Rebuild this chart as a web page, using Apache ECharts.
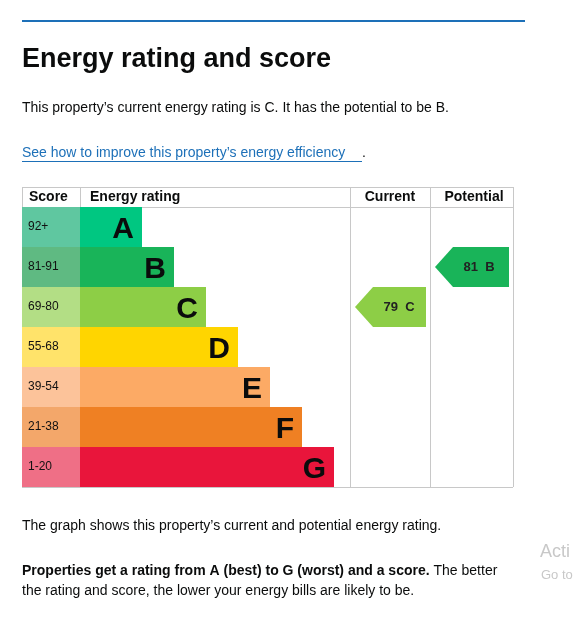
<!DOCTYPE html>
<html>
<head>
<meta charset="utf-8">
<script src="https://cdn.jsdelivr.net/npm/echarts@6/dist/echarts.min.js"></script>
<style>html,body{margin:0;padding:0;background:#fff}#chart{width:576px;height:617px}</style>
</head>
<body>
<div id="chart"></div>
<script>
// energy rating bands, top to bottom
var ratings = ['A', 'B', 'C', 'D', 'E', 'F', 'G'];
var scoreBands = ['92+', '81-91', '69-80', '55-68', '39-54', '21-38', '1-20'];
var barLengths = [62, 94, 126, 158, 190, 222, 254];
var bandColors = ['#00c781', '#19b459', '#8dce46', '#ffd500', '#fcaa65', '#ef8023', '#e9153b'];
var scoreColors = ['#5fc7a0', '#5fba82', '#b3de85', '#ffe36a', '#fcc39a', '#f3a76a', '#ef6f86'];
var currentScore = 79, currentRating = 'C';
var potentialScore = 81, potentialRating = 'B';

var font = 'Liberation Sans, Arial, sans-serif';
var chart = echarts.init(document.getElementById('chart'));
var top0 = 207, h = 280;

function catAxis(i) {
  return { gridIndex: i, type: 'category', data: ratings, inverse: true, show: false };
}
function valAxis(i, max) {
  return { gridIndex: i, type: 'value', min: 0, max: max, show: false };
}

function arrow(score, rating, color) {
  return function (params, api) {
    var idx = ratings.indexOf(rating);
    var c = api.coord([0, idx]);
    var bh = api.size([0, 1])[1];
    var cs = params.coordSys;
    var x0 = cs.x + 5, x1 = cs.x + cs.width - 4, yt = c[1] - bh / 2, yb = c[1] + bh / 2;
    return {
      type: 'group',
      children: [
        { type: 'polygon', shape: { points: [[x0, c[1]], [x0 + 18, yt], [x1, yt], [x1, yb], [x0 + 18, yb]] }, style: { fill: color } },
        { type: 'text', style: { text: score + '  ' + rating, x: x0 + 44, y: c[1], align: 'center', verticalAlign: 'middle', font: 'bold 13px ' + font, fill: '#222' } }
      ]
    };
  };
}

var lines = [];
function hline(x1, x2, y) { lines.push({ type: 'line', shape: { x1: x1, y1: y, x2: x2, y2: y }, style: { stroke: '#c8c8c8', lineWidth: 1 } }); }
function vline(x, y1, y2) { lines.push({ type: 'line', shape: { x1: x, y1: y1, x2: x, y2: y2 }, style: { stroke: '#c8c8c8', lineWidth: 1 } }); }
hline(22, 513, 187.5); hline(22, 513, 207.5); hline(22, 513, 487.5);
vline(22.5, 187, 207); vline(80.5, 187, 207); vline(350.5, 187, 487); vline(430.5, 187, 487); vline(513.5, 187, 487);

function txt(x, y, s, f, fill, align) {
  return { type: 'text', x: x, y: y, style: { text: s, font: f, fill: fill || '#0b0c0c', align: align || 'left', verticalAlign: 'middle' } };
}

chart.setOption({
  animation: false,
  grid: [
    { left: 22, top: top0, width: 58, height: h },
    { left: 80, top: top0, width: 254, height: h },
    { left: 350, top: top0, width: 80, height: h },
    { left: 430, top: top0, width: 83, height: h }
  ],
  xAxis: [valAxis(0, 1), valAxis(1, 254), valAxis(2, 1), valAxis(3, 1)],
  yAxis: [catAxis(0), catAxis(1), catAxis(2), catAxis(3)],
  series: [
    {
      type: 'bar', xAxisIndex: 0, yAxisIndex: 0, barWidth: '100%',
      data: scoreBands.map(function (s, i) { return { value: 1, itemStyle: { color: scoreColors[i] } }; }),
      label: { show: true, position: 'insideLeft', distance: 6, formatter: function (p) { return scoreBands[p.dataIndex]; }, font: 'bold 13px ' + font, color: '#111' }
    },
    {
      type: 'bar', xAxisIndex: 1, yAxisIndex: 1, barWidth: '100%',
      data: barLengths.map(function (v, i) { return { value: v, itemStyle: { color: bandColors[i] } }; }),
      label: { show: true, position: 'insideRight', distance: 8, formatter: '{b}', fontFamily: font, fontWeight: 'bold', fontSize: 30, color: '#0b0c0c', offset: [0, 3] }
    },
    { type: 'custom', xAxisIndex: 2, yAxisIndex: 2, data: [[0, ratings.indexOf(currentRating)]], renderItem: arrow(currentScore, currentRating, bandColors[ratings.indexOf(currentRating)]) },
    { type: 'custom', xAxisIndex: 3, yAxisIndex: 3, data: [[0, ratings.indexOf(potentialRating)]], renderItem: arrow(potentialScore, potentialRating, bandColors[ratings.indexOf(potentialRating)]) }
  ],
  graphic: lines.concat([
    { type: 'rect', shape: { x: 22, y: 20, width: 503, height: 2 }, style: { fill: '#1d70b8' } },
    txt(22, 60, 'Energy rating and score', 'bold 27px ' + font),
    txt(22, 108, 'This property\u2019s current energy rating is C. It has the potential to be B.', '14px ' + font),
    txt(22, 153, 'See how to improve this property\u2019s energy efficiency', '14px ' + font, '#1d70b8'),
    { type: 'rect', shape: { x: 22, y: 161, width: 340, height: 1 }, style: { fill: '#1d70b8' } },
    txt(362, 153, '.', '14px ' + font),
    txt(29, 197, 'Score', 'bold 14px ' + font),
    txt(90, 197, 'Energy rating', 'bold 14px ' + font),
    txt(390, 197, 'Current', 'bold 14px ' + font, null, 'center'),
    txt(474, 197, 'Potential', 'bold 14px ' + font, null, 'center'),
    txt(22, 526, 'The graph shows this property\u2019s current and potential energy rating.', '14px ' + font),
    {
      type: 'text', x: 22, y: 571, style: {
        text: '{b|Properties get a rating from A (best) to G (worst) and a score.} The better', rich: { b: { font: 'bold 14px ' + font, fill: '#0b0c0c' } },
        font: '14px ' + font, fill: '#0b0c0c', verticalAlign: 'middle'
      }
    },
    txt(22, 591, 'the rating and score, the lower your energy bills are likely to be.', '14px ' + font),
    txt(540, 552, 'Acti', '18px ' + font, '#c8c8c8'),
    txt(541, 575, 'Go to', '13px ' + font, '#c8c8c8')
  ])
});
</script>
</body>
</html>
